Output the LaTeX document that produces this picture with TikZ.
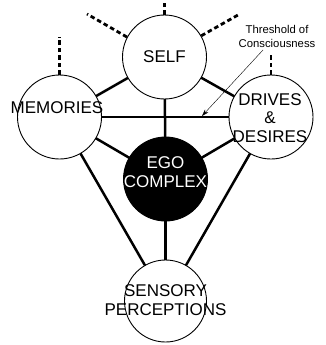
\documentclass[tikz,border=0pt]{standalone}
\usepackage{fontspec}
\setmainfont{Liberation Sans}
\usetikzlibrary{arrows.meta}
\begin{document}
\begin{tikzpicture}[x=1pt,y=-1pt,
  bub/.style={circle,draw,line width=0.9pt,fill=white,minimum size=84pt,inner sep=0pt},
  link/.style={line width=2.5pt},
  dsh/.style={line width=2.8pt,dash pattern=on 4.5pt off 3pt},
  lab/.style={font=\fontsize{17}{19.5}\selectfont,inner sep=0pt,align=center},
  small/.style={font=\fontsize{11.3}{14}\selectfont,inner sep=0pt,align=center}]
\useasboundingbox (0,0) rectangle (325,345);
\coordinate (cs) at (164.5,57);
\coordinate (cm) at (59.5,117);
\coordinate (cd) at (271,117);
\coordinate (ce) at (165.5,179);
\coordinate (cp) at (165.5,301);
% connectors
\draw[link] (cs) -- (cm);
\draw[link] (cs) -- (cd);
\draw[link] (cs) -- (ce);
\draw[link] (cm) -- (cd);
\draw[link] (cm) -- (ce);
\draw[link] (cd) -- (ce);
\draw[link] (cm) -- (cp);
\draw[link] (cd) -- (cp);
\draw[link] (ce) -- (cp);
% circles
\node[bub] (self) at (cs) {};
\node[bub] (mem) at (cm) {};
\node[bub] (drv) at (cd) {};
\node[bub,fill=black] (ego) at (ce) {};
\node[bub,minimum size=82pt] (sen) at (cp) {};
% dashed lines
\coordinate (d1) at (164.5,0);
\coordinate (d2) at (87,14);
\coordinate (d3) at (238,15);
\coordinate (d4) at (59.5,37);
\coordinate (d5) at (271,55);
\draw[dsh] (self.north) -- (d1);
\draw[dsh] (self.152) -- (d2);
\draw[dsh] (self.30) -- (d3);
\draw[dsh] (mem.north) -- (d4);
\draw[dsh] (drv.north) -- (d5);
% texts
\node[lab] (tself) at (164.5,57) {SELF};
\node[lab] (tmem) at (57,108) {MEMORIES};
\node[lab] (tdrv) at (270,118) {DRIVES\\[-1pt]\&\\[-1pt]DESIRES};
\node[lab,text=white] (tego) at (165.5,172) {EGO\\COMPLEX};
\node[lab] (tsen) at (165.5,300) {SENSORY\\PERCEPTIONS};
\node[small] (thr) at (277,36) {Threshold of\\Consciousness};
\coordinate (tip) at (202,116);
\draw[line width=0.4pt,-{Stealth[length=7pt,width=4.5pt]}] (263,50) -- (tip);
\end{tikzpicture}
\end{document}
